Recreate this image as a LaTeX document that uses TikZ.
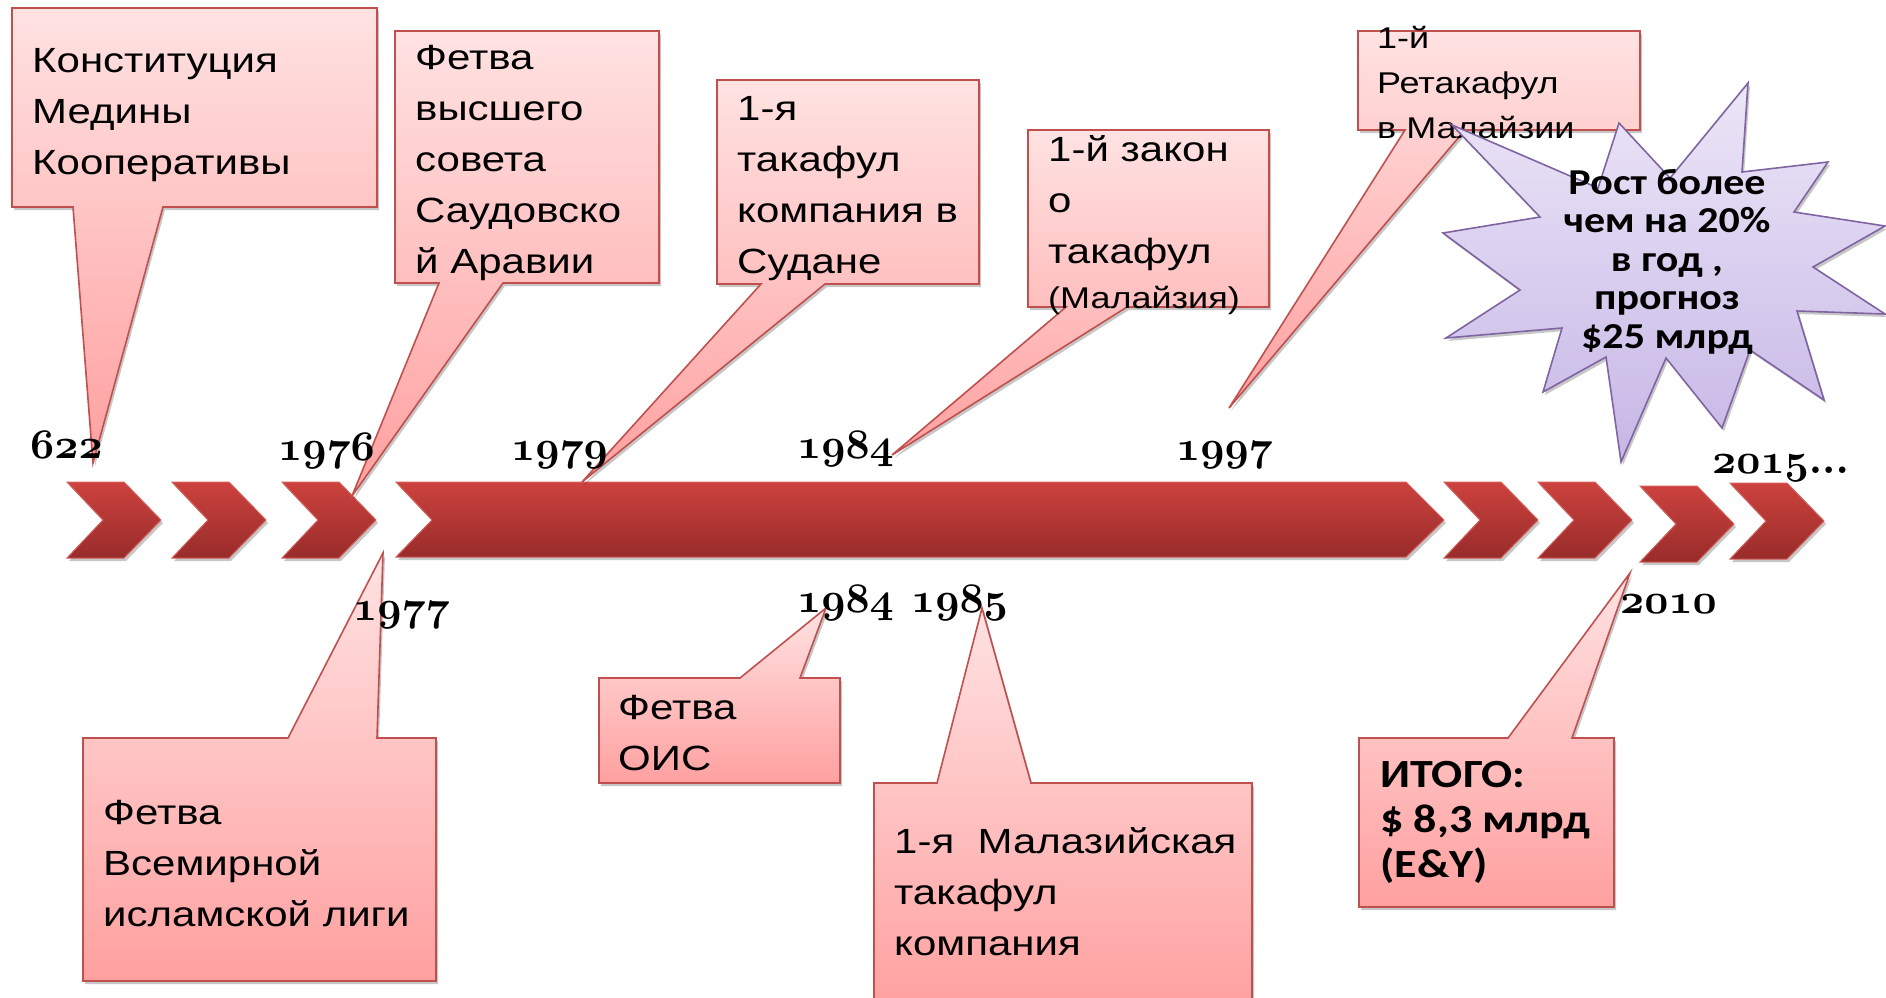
\documentclass[tikz,border=0pt]{standalone}
\usepackage{fontspec}
\setmainfont{Liberation Sans}
\newfontfamily\boxfont[FakeStretch=1.2]{Liberation Sans}
\newfontfamily\carlito[FakeStretch=1.15]{Carlito}
% old-style bold figures for the years
\DeclareFontFamily{OML}{yrnum}{\skewchar\font=127}
\DeclareFontShape{OML}{yrnum}{b}{it}{<->cmmib10}{}
\newcommand{\yearfont}{\fontsize{42}{42}\usefont{OML}{yrnum}{b}{it}}

\definecolor{boxtop}{RGB}{255,226,226}
\definecolor{boxbot}{RGB}{255,160,160}
\definecolor{boxline}{RGB}{192,80,77}
\definecolor{chevtop}{RGB}{204,66,62}
\definecolor{chevbot}{RGB}{152,44,42}
\definecolor{startop}{RGB}{236,230,247}
\definecolor{starbot}{RGB}{198,182,230}
\definecolor{starline}{RGB}{128,100,162}

\tikzset{
  shadowed/.style={preaction={fill=black, opacity=0.22,
      transform canvas={shift={(2pt,-3pt)}}}},
  bubble/.style={shadowed, top color=boxtop, bottom color=boxbot,
    draw=boxline, line width=1.6pt, line join=miter},
  chev/.style={shadowed, top color=chevtop, bottom color=chevbot,
    draw=chevtop!85!white, line width=1pt},
  % anchored at the baseline of the last line
  boxtext/.style={font=\boxfont\fontsize{35}{51}\selectfont, align=left,
    inner sep=0pt, anchor=base west},
  smalltext/.style={boxtext, font=\boxfont\fontsize{30}{45}\selectfont},
  boldtext/.style={boxtext, font=\carlito\bfseries\fontsize{40}{45}\selectfont},
  yr/.style={font=\yearfont, inner sep=0pt, anchor=base west},
}

\newcommand{\chevron}[2]{%
  \shadedraw[chev] (#1,#2) -- ++(57,0) -- ++(37,38) -- ++(-37,38)
    -- ++(-57,0) -- ++(36,-38) -- cycle;}

\begin{document}
\begin{tikzpicture}[x=1pt, y=-1pt]
  \useasboundingbox (0,0) rectangle (1886,997);

  % time line
  \foreach \cx in {67,172,282} {\chevron{\cx}{482}}
  \shadedraw[chev] (396,482) -- (1406,482) -- (1444,520) -- (1406,557)
    -- (396,557) -- (432,520) -- cycle;
  \foreach \cx/\cy in {1444/482,1538/482,1640/486,1730/483} {\chevron{\cx}{\cy}}

  % callout tips
  \coordinate (t622) at (93,463);
  \coordinate (t1976) at (352,496);
  \coordinate (t1979) at (582,482);
  \coordinate (t1984a) at (892,455);
  \coordinate (t1997) at (1229,408);
  \coordinate (t1977) at (383,553);
  \coordinate (t1984b) at (826,608);
  \coordinate (t1985) at (982,608);
  \coordinate (t2010) at (1630,573);

  % callouts above
  \shadedraw[bubble] (12,8) -- (377,8) -- (377,207) -- (163,207) -- (t622)
    -- (73,207) -- (12,207) -- cycle;
  \node[boxtext] (konst) at (32,174) {Конституция\\Медины\\Кооперативы};

  \shadedraw[bubble] (395,31) -- (659,31) -- (659,283) -- (503,283) -- (t1976)
    -- (439,283) -- (395,283) -- cycle;
  \node[boxtext] (saudi) at (415,273) {Фетва\\высшего\\совета\\Саудовско\\й Аравии};

  \shadedraw[bubble] (717,80) -- (979,80) -- (979,284) -- (825,284) -- (t1979)
    -- (761,284) -- (717,284) -- cycle;
  \node[boxtext] (sudan) at (737,273) {1-я\\такафул\\компания в\\Судане};

  \shadedraw[bubble] (1028,130) -- (1269,130) -- (1269,307) -- (1127,307) -- (t1984a)
    -- (1066,307) -- (1028,307) -- cycle;
  \node[boxtext] (zakon) at (1048,263) {1-й закон\\о\\такафул};
  \node[smalltext] (zakonB) at (1048,308) {(Малайзия)};

  \shadedraw[bubble] (1358,31) -- (1640,31) -- (1640,130) -- (1465,130) -- (t1997)
    -- (1405,130) -- (1358,130) -- cycle;
  \node[smalltext] (retak) at (1377,138) {1-й\\Ретакафул\\в Малайзии};

  % callouts below
  \shadedraw[bubble] (83,738) -- (288,738) -- (t1977) -- (377,738) -- (436,738)
    -- (436,981) -- (83,981) -- cycle;
  \node[boxtext] (liga) at (103,926) {Фетва\\Всемирной\\исламской лиги};

  \shadedraw[bubble] (599,678) -- (740,678) -- (t1984b) -- (800,678) -- (840,678)
    -- (840,783) -- (599,783) -- cycle;
  \node[boxtext] (ois) at (618,770) {Фетва\\ОИС};

  \shadedraw[bubble] (874,783) -- (937,783) -- (t1985) -- (1031,783) -- (1252,783)
    -- (1252,1010) -- (874,1010) -- cycle;
  \node[boxtext] (malay) at (894,955) {1-я\ \ Малазийская\\такафул\\компания};

  \shadedraw[bubble] (1359,738) -- (1508,738) -- (t2010) -- (1572,738) -- (1614,738)
    -- (1614,907) -- (1359,907) -- cycle;
  \node[boldtext] (itogo) at (1380,877) {ИТОГО:\\\$ 8,3 млрд\\(E\&Y)};

  % years
  \node[yr] (y622) at (30,458) {622};
  \node[yr] (y1976) at (278,460) {1976};
  \node[yr] (y1979) at (511,460) {1979};
  \node[yr] (y1984a) at (797,458) {1984};
  \node[yr] (y1997) at (1176,460) {1997};
  \node[yr] (y2015) at (1712,473) {2015:::};
  \node[yr] (y1977) at (353,620) {1977};
  \node[yr] (y1984b) at (797,612) {1984};
  \node[yr] (y1985) at (911,612) {1985};
  \node[yr] (y2010) at (1620,613) {2010};

  % growth star
  \shadedraw[shadowed, top color=startop, bottom color=starbot, draw=starline,
    line width=1.6pt]
    (1452,125) -- (1598,188) -- (1619,123) -- (1670,178) -- (1748,83)
    -- (1742,172) -- (1828,162) -- (1794,212) -- (1885,226) -- (1813,267)
    -- (1885,314) -- (1797,311) -- (1824,400) -- (1750,350) -- (1722,428)
    -- (1666,358) -- (1621,462) -- (1606,357) -- (1543,392) -- (1562,328)
    -- (1446,338) -- (1520,290) -- (1443,233) -- (1540,217) -- cycle;
  \node[font=\carlito\bfseries\fontsize{36.5}{38.5}\selectfont, align=center,
    inner sep=0pt, anchor=base] (rost) at (1667,348)
    {Рост более\\чем на 20\%\\в год ,\\прогноз\\\$25 млрд};
\end{tikzpicture}
\end{document}
